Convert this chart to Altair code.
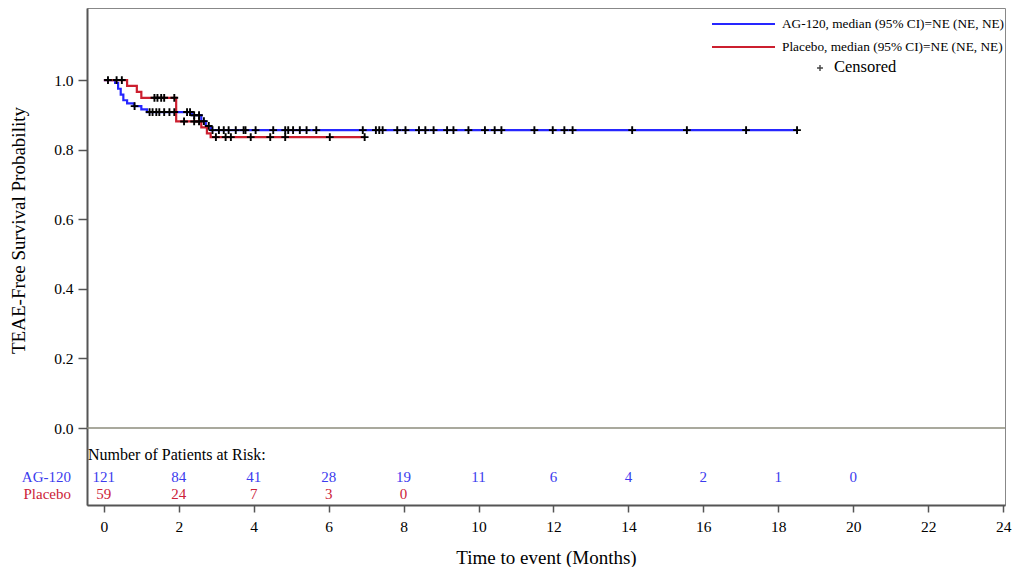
import altair as alt
import pandas as pd
import numpy as np

# ---- data ----
ag_t = [0, 0.30, 0.38, 0.45, 0.52, 0.62, 0.80, 1.00, 1.15, 2.35, 2.60, 2.72, 2.86]
ag_s = [1.000, 0.992, 0.975, 0.958, 0.942, 0.933, 0.925, 0.916, 0.908, 0.899, 0.882, 0.868, 0.856]
ag_end = 18.50

pl_t = [0, 0.62, 0.88, 1.00, 1.93, 2.60, 2.75, 2.85]
pl_s = [1.000, 0.983, 0.966, 0.949, 0.881, 0.864, 0.847, 0.836]
pl_end = 6.96

ag_cens = [0.82, 1.22, 1.30, 1.40, 1.48, 1.61, 1.75, 1.88, 2.22, 2.30, 2.41, 2.54, 2.67, 2.80,
           2.90, 3.07, 3.20, 3.33, 3.52, 3.73, 3.78, 4.05, 4.52, 4.84, 4.92, 5.05, 5.23, 5.41,
           5.67, 6.91, 7.26, 7.35, 7.44, 7.83, 8.05, 8.41, 8.58, 8.80, 9.16, 9.33, 9.73, 10.17,
           10.43, 10.61, 11.49, 11.98, 12.29, 12.51, 14.10, 15.56, 17.14, 18.50]
pl_cens = [0.11, 0.34, 0.48, 1.35, 1.43, 1.53, 1.61, 1.88, 2.14, 2.41, 2.54, 2.99, 3.25, 3.39,
           3.92, 4.44, 4.84, 6.03, 6.96]

risk_times_ag = [0, 2, 4, 6, 8, 10, 12, 14, 16, 18, 20]
risk_ag = [121, 84, 41, 28, 19, 11, 6, 4, 2, 1, 0]
risk_times_pl = [0, 2, 4, 6, 8]
risk_pl = [59, 24, 7, 3, 0]

groups = ["AG-120", "Placebo"]
legend_labels = ["AG-120, median (95%  CI)=NE (NE, NE)", "Placebo, median (95%  CI)=NE (NE, NE)"]
x_ticks = list(range(0, 25, 2))
y_ticks = [0.0, 0.2, 0.4, 0.6, 0.8, 1.0]

FONT = "Liberation Serif"
BLUE = "#2626ff"
RED = "#cc1f2f"
TBLUE = "#3b3bee"
TRED = "#cc2238"

# ---- build tables ----
def curve(name, t, s, end):
    tt = list(t) + [end]
    ss = list(s) + [s[-1]]
    return pd.DataFrame({"t": tt, "s": ss, "grp": name})

def cens(name, t, s, c):
    t = np.array(t); s = np.array(s); c = np.array(c)
    idx = np.searchsorted(t, c, side="right") - 1
    return pd.DataFrame({"t": c, "s": s[idx], "grp": name})

lines_df = pd.concat([curve(groups[0], ag_t, ag_s, ag_end), curve(groups[1], pl_t, pl_s, pl_end)])
cens_df = pd.concat([cens(groups[0], ag_t, ag_s, ag_cens), cens(groups[1], pl_t, pl_s, pl_cens)])
risk_ag_df = pd.DataFrame({"t": risk_times_ag, "n": risk_ag})
risk_pl_df = pd.DataFrame({"t": risk_times_pl, "n": risk_pl})
one = pd.DataFrame({"a": [0]})

xs = alt.Scale(domain=[-0.45, 24.05], nice=False, zero=False)
ys = alt.Scale(domain=[-0.221, 1.207], nice=False, zero=False)

x_axis = alt.Axis(values=x_ticks, title="Time to event (Months)", grid=False,
                  labelFont=FONT, labelFontSize=15.5, labelColor="black", labelPadding=7,
                  tickSize=7, tickColor="#555", tickWidth=1.5,
                  domainColor="#555", domainWidth=2,
                  titleFont=FONT, titleFontSize=19, titleFontWeight="normal",
                  titleColor="black", titlePadding=14)
y_axis = alt.Axis(values=y_ticks, format=".1f", title="TEAE-Free Survival Probability",
                  grid=False, labelFont=FONT, labelFontSize=15.5, labelColor="black",
                  labelPadding=5, tickSize=9, tickColor="#555", tickWidth=1.5,
                  domainColor="#555", domainWidth=2,
                  titleFont=FONT, titleFontSize=19, titleFontWeight="normal",
                  titleColor="black", titleX=-59, titleY=222)

color = alt.Color("grp:N", scale=alt.Scale(domain=groups, range=[BLUE, RED]), legend=None)

zero_rule = alt.Chart(one).mark_rule(color="#8c8c7c", strokeWidth=1.5).encode(
    y=alt.datum(0, scale=ys))

lines = alt.Chart(lines_df).mark_line(interpolate="step-after", strokeWidth=2.2).encode(
    x=alt.X("t:Q", scale=xs, axis=x_axis),
    y=alt.Y("s:Q", scale=ys, axis=y_axis),
    color=color, detail="grp:N")

plus = "M-1,0L1,0M0,-1L0,1"
censors = alt.Chart(cens_df).mark_point(shape=plus, filled=False, stroke="black",
                                        strokeWidth=1.9, size=60, opacity=1).encode(
    x=alt.X("t:Q", scale=xs), y=alt.Y("s:Q", scale=ys))

risk_a = alt.Chart(risk_ag_df).mark_text(font=FONT, fontSize=15, color=TBLUE,
                                         baseline="middle").encode(
    x=alt.X("t:Q", scale=xs), y=alt.value(469), text="n:Q")
risk_p = alt.Chart(risk_pl_df).mark_text(font=FONT, fontSize=15, color=TRED,
                                         baseline="middle").encode(
    x=alt.X("t:Q", scale=xs), y=alt.value(486), text="n:Q")

lab_a = alt.Chart(one).mark_text(font=FONT, fontSize=15, color=TBLUE, align="right",
                                 baseline="middle").encode(
    x=alt.value(-16), y=alt.value(469), text=alt.value(groups[0]))
lab_p = alt.Chart(one).mark_text(font=FONT, fontSize=15, color=TRED, align="right",
                                 baseline="middle").encode(
    x=alt.value(-16), y=alt.value(486), text=alt.value(groups[1]))
header = alt.Chart(one).mark_text(font=FONT, fontSize=16, color="black", align="left",
                                  baseline="middle").encode(
    x=alt.value(1), y=alt.value(447), text=alt.value("Number of Patients at Risk:"))

# legend (drawn in the top right corner)
LX0, LX1, TX = 625, 688, 695
leg_l1 = alt.Chart(one).mark_rule(color=BLUE, strokeWidth=2).encode(
    x=alt.value(LX0), x2=alt.value(LX1), y=alt.value(16))
leg_l2 = alt.Chart(one).mark_rule(color=RED, strokeWidth=2).encode(
    x=alt.value(LX0), x2=alt.value(LX1), y=alt.value(39))
leg_t1 = alt.Chart(one).mark_text(font=FONT, fontSize=13.3, color="black", align="left",
                                  baseline="middle").encode(
    x=alt.value(TX), y=alt.value(16), text=alt.value(legend_labels[0]))
leg_t2 = alt.Chart(one).mark_text(font=FONT, fontSize=13.3, color="black", align="left",
                                  baseline="middle").encode(
    x=alt.value(TX), y=alt.value(39), text=alt.value(legend_labels[1]))
leg_p = alt.Chart(one).mark_point(shape=plus, filled=False, stroke="#444", strokeWidth=1.4,
                                  size=35, opacity=1).encode(
    x=alt.value(733), y=alt.value(60))
leg_t3 = alt.Chart(one).mark_text(font=FONT, fontSize=16.5, color="black", align="left",
                                  baseline="middle").encode(
    x=alt.value(747), y=alt.value(59), text=alt.value("Censored"))

chart = alt.layer(zero_rule, lines, censors, risk_a, risk_p, lab_a, lab_p, header,
                  leg_l1, leg_l2, leg_t1, leg_t2, leg_p, leg_t3).properties(
    width=918, height=497,
    autosize=alt.AutoSizeParams(type="none"),
    padding={"left": 79, "top": 0, "right": 9, "bottom": 62},
    background="white",
).configure_view(stroke="#888", strokeWidth=1)

chart.save("out.html", embed_options={"renderer": "svg", "actions": False})
